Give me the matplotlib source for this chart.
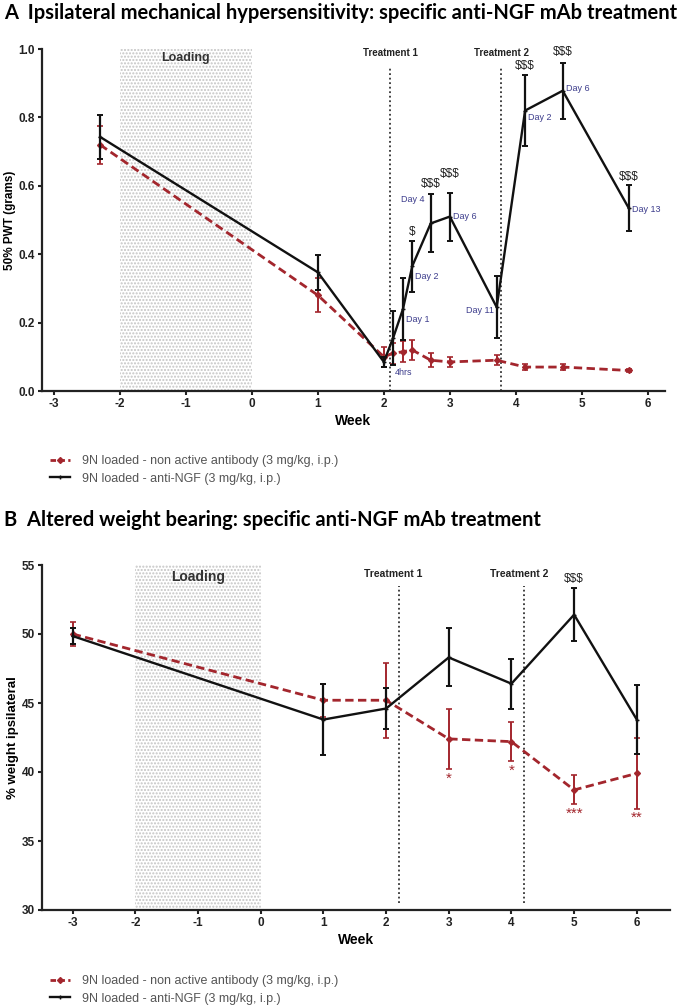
import matplotlib.pyplot as plt
from matplotlib.lines import Line2D

plt.rcParams['font.family'] = ['Liberation Sans', 'DejaVu Sans']
plt.rcParams['axes.unicode_minus'] = False

RED = '#a3262d'
BLUE = '#3c3c8c'
GREY = '#555555'

# ---- panel A: 50% PWT (grams)
a_weeks = [-2.3, 1, 2, 2.14, 2.29, 2.43, 2.71, 3.0, 3.71, 4.14, 4.71, 5.71]
a_ctrl = [0.72, 0.28, 0.10, 0.11, 0.115, 0.12, 0.09, 0.085, 0.09, 0.07, 0.07, 0.06]
a_ctrl_err = [0.055, 0.05, 0.03, 0.03, 0.03, 0.03, 0.02, 0.015, 0.015, 0.008, 0.01, 0.005]
a_ngf = [0.743, 0.347, 0.085, 0.155, 0.24, 0.365, 0.49, 0.51, 0.245, 0.82, 0.878, 0.535]
a_ngf_err = [0.065, 0.052, 0.015, 0.08, 0.09, 0.075, 0.085, 0.07, 0.09, 0.105, 0.082, 0.066]
a_days = ['4hrs', 'Day 1', 'Day 2', 'Day 4', 'Day 6', 'Day 11', 'Day 2', 'Day 6', 'Day 13']
a_sig = ['$', '$$$', '$$$', '$$$', '$$$', '$$$']
a_treat = [2.1, 3.78]

# ---- panel B: % weight ipsilateral
b_weeks = [-3, 1, 2, 3, 4, 5, 6]
b_ctrl = [50.0, 45.2, 45.2, 42.4, 42.2, 38.7, 39.9]
b_ctrl_err = [0.9, 1.2, 2.7, 2.2, 1.4, 1.05, 2.55]
b_ngf = [49.85, 43.8, 44.6, 48.3, 46.4, 51.4, 43.8]
b_ngf_err = [0.6, 2.6, 1.5, 2.1, 1.8, 1.9, 2.5]
b_stars = ['*', '*', '***', '**']
b_treat = [2.2, 4.2]

lab_ctrl = '9N loaded - non active antibody (3 mg/kg, i.p.)'
lab_ngf = '9N loaded - anti-NGF (3 mg/kg, i.p.)'

W, H = 684, 1007
fig = plt.figure(figsize=(W / 100, H / 100), dpi=100)


def px_axes(left, right, top, bottom):
    return fig.add_axes([left / W, 1 - bottom / H, (right - left) / W, (bottom - top) / H])


def style(ax):
    for s in ['top', 'right']:
        ax.spines[s].set_visible(False)
    for s in ['left', 'bottom']:
        ax.spines[s].set_linewidth(1.6)
        ax.spines[s].set_color('#222222')
    ax.tick_params(width=1.5, length=3, pad=2, labelsize=8.5, color='#222222')
    for t in ax.get_xticklabels() + ax.get_yticklabels():
        t.set_fontweight('bold')
        t.set_color('#222222')


def draw_series(ax, x, y, yerr, ctrl):
    if ctrl:
        ax.errorbar(x, y, yerr=yerr, fmt='none', ecolor=RED, elinewidth=1.4, capsize=2, capthick=1.2, zorder=3)
        ax.plot(x, y, color=RED, ls=(0, (3, 1.6)), lw=2, marker='D', ms=3, zorder=3)
    else:
        ax.errorbar(x, y, yerr=yerr, fmt='none', ecolor='#111111', elinewidth=1.6, capsize=2, capthick=1.4, zorder=4)
        ax.plot(x, y, color='#111111', lw=1.7, marker='+', ms=3, zorder=4)


def legend(ax, y_px):
    handles = [Line2D([], [], color=RED, ls=(0, (2, 1.2)), lw=2, marker='D', ms=3),
               Line2D([], [], color='#111111', lw=1.7, marker='+', ms=3)]
    fig.legend(handles, [lab_ctrl, lab_ngf], loc='upper left', bbox_to_anchor=(45 / W, 1 - y_px / H),
               frameon=False, fontsize=9, labelcolor=GREY, handlelength=1.6, handletextpad=1.0,
               labelspacing=0.45, borderaxespad=0)


# ---------------- Panel A ----------------
fig.text(4 / W, 1 - 13 / H, 'A  Ipsilateral mechanical hypersensitivity: specific anti-NGF mAb treatment',
         family=['Lato', 'DejaVu Sans'], fontweight='bold', fontsize=14.5, va='center', ha='left')

ax = px_axes(42, 665, 49, 391)
ax.set_xlim(-3.18, 6.26)
ax.set_ylim(0, 1.0)
ax.axvspan(-2, 0, ymax=1.0, facecolor='white', edgecolor='#c4c4c4', hatch='.....', lw=0, zorder=0)
ax.text(-1, 0.975, 'Loading', ha='center', va='center', fontsize=9, fontweight='bold', color='#333333')
for i, xt in enumerate(a_treat):
    ax.plot([xt, xt], [0, 0.95], ls=(0, (1, 1.5)), color='#333333', lw=1.3, zorder=1)
    ax.text(xt, 0.988, 'Treatment %d' % (i + 1), ha='center', va='center', fontsize=7, fontweight='bold',
            color='#222222')
draw_series(ax, a_weeks, a_ctrl, a_ctrl_err, True)
draw_series(ax, a_weeks, a_ngf, a_ngf_err, False)

day_pos = [(2.17, 0.055, 'left'), (2.34, 0.21, 'left'), (2.47, 0.335, 'left'), (2.62, 0.56, 'right'),
           (3.05, 0.51, 'left'), (3.66, 0.235, 'right'), (4.18, 0.80, 'left'), (4.76, 0.884, 'left'),
           (5.76, 0.53, 'left')]
for (xd, yd, ha), lab in zip(day_pos, a_days):
    ax.text(xd, yd, lab, ha=ha, va='center', fontsize=6.5, color=BLUE)

sig_pos = [(2.43, 0.465), (2.71, 0.605), (3.0, 0.635), (4.14, 0.95), (4.71, 0.99), (5.71, 0.625)]
for (xs, ys), s in zip(sig_pos, a_sig):
    ax.text(xs, ys, s, ha='center', va='center', fontsize=8.5, color='#222222', clip_on=False)

ax.set_xticks(range(-3, 7))
ax.set_yticks([0, 0.2, 0.4, 0.6, 0.8, 1.0])
ax.set_yticklabels(['0.0', '0.2', '0.4', '0.6', '0.8', '1.0'])
ax.set_xlabel('Week', fontsize=10, fontweight='bold', labelpad=3)
ax.set_ylabel('50% PWT (grams)', fontsize=8.5, fontweight='bold', labelpad=2)
style(ax)
legend(ax, 450)

# ---------------- Panel B ----------------
fig.text(4 / W, 1 - 520 / H, 'B  Altered weight bearing: specific anti-NGF mAb treatment',
         family=['Lato', 'DejaVu Sans'], fontweight='bold', fontsize=14.5, va='center', ha='left')

bx = px_axes(42, 670, 565, 910)
bx.set_xlim(-3.49, 6.53)
bx.set_ylim(30, 55)
bx.axvspan(-2, 0, facecolor='white', edgecolor='#c4c4c4', hatch='.....', lw=0, zorder=0)
bx.text(-1, 54.1, 'Loading', ha='center', va='center', fontsize=10, fontweight='bold', color='#333333')
for i, xt in enumerate(b_treat):
    bx.plot([xt, xt], [30.5, 53.5], ls=(0, (1, 1.5)), color='#333333', lw=1.3, zorder=1)
    bx.text(xt - 0.08, 54.35, 'Treatment %d' % (i + 1), ha='center', va='center', fontsize=7.5,
            fontweight='bold', color='#222222')
draw_series(bx, b_weeks, b_ctrl, b_ctrl_err, True)
draw_series(bx, b_weeks, b_ngf, b_ngf_err, False)

star_pos = [(3, 39.5), (4, 40.1), (5, 37.0), (6, 36.7)]
for (xs, ys), s in zip(star_pos, b_stars):
    bx.text(xs, ys, s, ha='center', va='center', fontsize=11, color=RED)
bx.text(5, 54.0, '$$$', ha='center', va='center', fontsize=8.5, color='#222222')

bx.set_xticks(range(-3, 7))
bx.set_yticks(range(30, 56, 5))
bx.set_xlabel('Week', fontsize=10, fontweight='bold', labelpad=3)
bx.set_ylabel('% weight ipsilateral', fontsize=9.5, fontweight='bold', labelpad=2)
style(bx)
legend(bx, 970)

fig.savefig('out.png', dpi=100)
